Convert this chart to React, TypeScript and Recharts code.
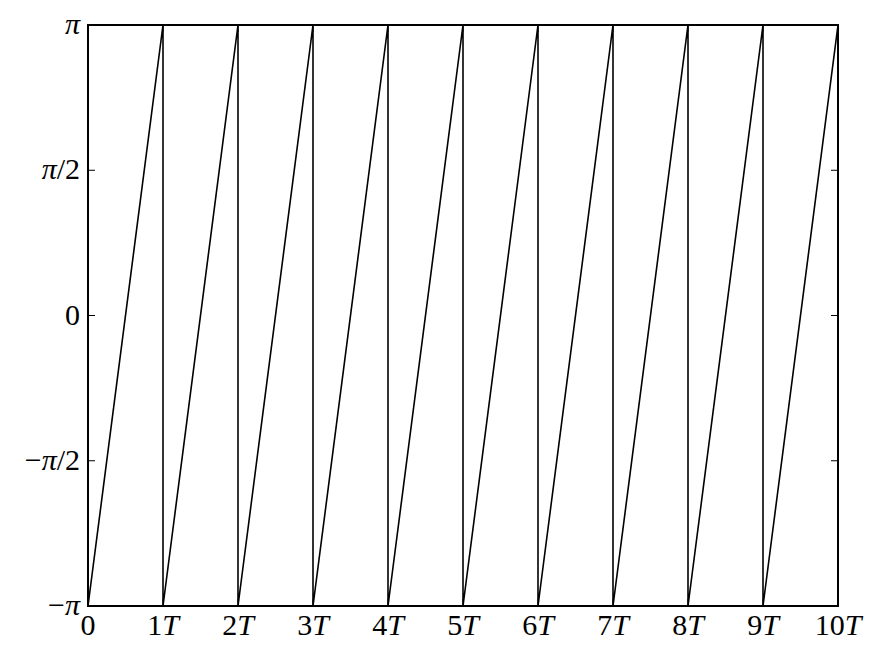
import React from "react";
import { LineChart, Line, XAxis, YAxis, ReferenceArea } from "recharts";

const PI = Math.PI;
const periods = [0, 1, 2, 3, 4, 5, 6, 7, 8, 9];
const xTicks = [0, 1, 2, 3, 4, 5, 6, 7, 8, 9, 10];
const yTicks = [-PI, -PI / 2, 0, PI / 2, PI];
const yTickLabels = ["−π", "−π/2", "0", "π/2", "π"];

// sawtooth phase: rises from -π to π over each period, then drops back
const data: { t: number; phase: number }[] = [];
periods.forEach((k) => {
  data.push({ t: k, phase: -PI });
  data.push({ t: k + 1, phase: PI });
});

const W = 872;
const H = 654;
const LEFT = 88;
const TOP = 25;
const RIGHT = 838;
const BOTTOM = 606;
const TICK = 7;
const FONT = "'Liberation Serif', serif";
const FS = 30;

const BottomTick = (props: any) => {
  const { x, payload } = props;
  const v = payload.value;
  return (
    <g>
      <line x1={x} y1={BOTTOM} x2={x} y2={BOTTOM - TICK} stroke="#000" strokeWidth={1} />
      <line x1={x} y1={TOP} x2={x} y2={TOP + TICK} stroke="#000" strokeWidth={1} />
      <text x={x} y={BOTTOM + 29} textAnchor="middle" fontFamily={FONT} fontSize={FS} fill="#000">
        {v === 0 ? "0" : (
          <>
            {String(v)}
            <tspan fontStyle="italic">T</tspan>
          </>
        )}
      </text>
    </g>
  );
};

const LeftTick = (props: any) => {
  const { y, index } = props;
  const label = yTickLabels[index];
  const parts = label.split("π");
  return (
    <g>
      <line x1={LEFT} y1={y} x2={LEFT + TICK} y2={y} stroke="#000" strokeWidth={1} />
      <line x1={RIGHT} y1={y} x2={RIGHT - TICK} y2={y} stroke="#000" strokeWidth={1} />
      <text x={LEFT - 8} y={y + 9} textAnchor="end" fontFamily={FONT} fontSize={FS} fill="#000">
        {parts.length === 1 ? label : (
          <>
            {parts[0]}
            <tspan fontStyle="italic">π</tspan>
            {parts[1]}
          </>
        )}
      </text>
    </g>
  );
};

export default function App() {
  return (
    <div style={{ position: "absolute", left: 0, top: 0, width: W, height: H, background: "#fff" }}>
      <LineChart
        width={W}
        height={H}
        data={data}
        margin={{ top: TOP, right: W - RIGHT, bottom: 0, left: 0 }}
      >
        <XAxis
          dataKey="t"
          type="number"
          domain={[0, 10]}
          ticks={xTicks}
          orientation="bottom"
          height={H - BOTTOM}
          tickSize={0}
          tickMargin={0}
          tickLine={false}
          axisLine={false}
          tick={<BottomTick />}
          interval={0}
        />
        <YAxis
          type="number"
          domain={[-PI, PI]}
          ticks={yTicks}
          orientation="left"
          width={LEFT}
          tickSize={0}
          tickMargin={0}
          tickLine={false}
          axisLine={false}
          tick={<LeftTick />}
          interval={0}
        />
        <Line
          dataKey="phase"
          type="linear"
          stroke="#000"
          strokeWidth={1.6}
          dot={false}
          isAnimationActive={false}
        />
        <ReferenceArea
          x1={0}
          x2={10}
          y1={-PI}
          y2={PI}
          fill="none"
          fillOpacity={0}
          stroke="#000"
          strokeWidth={2}
          strokeOpacity={1}
          ifOverflow="visible"
        />
      </LineChart>
    </div>
  );
}
